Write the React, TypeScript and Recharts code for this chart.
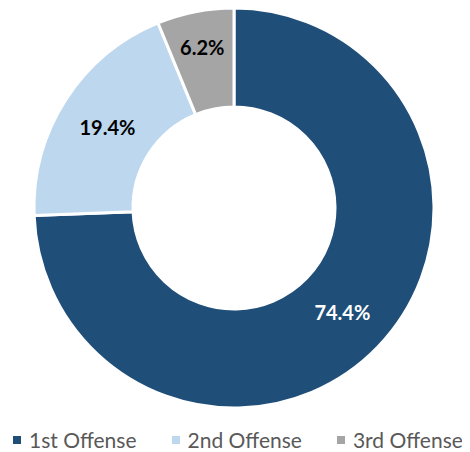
import React from 'react';
import { PieChart, Pie, Cell, Legend } from 'recharts';

const categories = ['1st Offense', '2nd Offense', '3rd Offense'];
const shares = [74.4, 19.4, 6.2];
const colors = ['#1F4E79', '#BDD7EE', '#A5A5A5'];
const labelColors = ['#FFFFFF', '#000000', '#000000'];

const data = categories.map((name, i) => ({ name, value: shares[i] }));

const RADIAN = Math.PI / 180;

const renderLabel = (props: any) => {
  const { cx, cy, midAngle, innerRadius, outerRadius, index, value } = props;
  const small = value < 10;
  const r = small ? outerRadius - 36 : (innerRadius + outerRadius) / 2;
  const x = cx + r * Math.cos(-midAngle * RADIAN);
  const y = cy + r * Math.sin(-midAngle * RADIAN);
  return (
    <text
      x={x}
      y={y}
      fill={labelColors[index]}
      textAnchor="middle"
      dominantBaseline="central"
      fontSize={20}
      fontWeight="bold"
      fontFamily="Lato, 'Open Sans', sans-serif"
    >
      {value.toFixed(1)}%
    </text>
  );
};

const renderLegend = () => (
  <div
    style={{
      display: 'flex',
      alignItems: 'center',
      fontFamily: "Lato, 'Open Sans', sans-serif",
      fontSize: 21,
      color: '#595959',
      paddingLeft: 5,
      whiteSpace: 'nowrap',
    }}
  >
    {categories.map((c, i) => (
      <div key={c} style={{ display: 'flex', alignItems: 'center', marginRight: 35 }}>
        <span
          style={{
            display: 'inline-block',
            width: 8,
            height: 8,
            background: colors[i],
            marginRight: 8,
          }}
        />
        <span>{c}</span>
      </div>
    ))}
  </div>
);

export default function App() {
  return (
    <PieChart width={462} height={444} margin={{ top: 0, right: 0, bottom: 0, left: 0 }}>
      <Pie
        data={data}
        dataKey="value"
        nameKey="name"
        cx={226}
        cy={200}
        innerRadius={101}
        outerRadius={200}
        startAngle={90}
        endAngle={-270}
        stroke="#FFFFFF"
        strokeWidth={3}
        label={renderLabel}
        labelLine={false}
        isAnimationActive={false}
      >
        {data.map((d, i) => (
          <Cell key={d.name} fill={colors[i]} />
        ))}
      </Pie>
      <Legend
        content={renderLegend}
        verticalAlign="bottom"
        wrapperStyle={{ left: 0, bottom: 0, width: 462 }}
      />
    </PieChart>
  );
}
